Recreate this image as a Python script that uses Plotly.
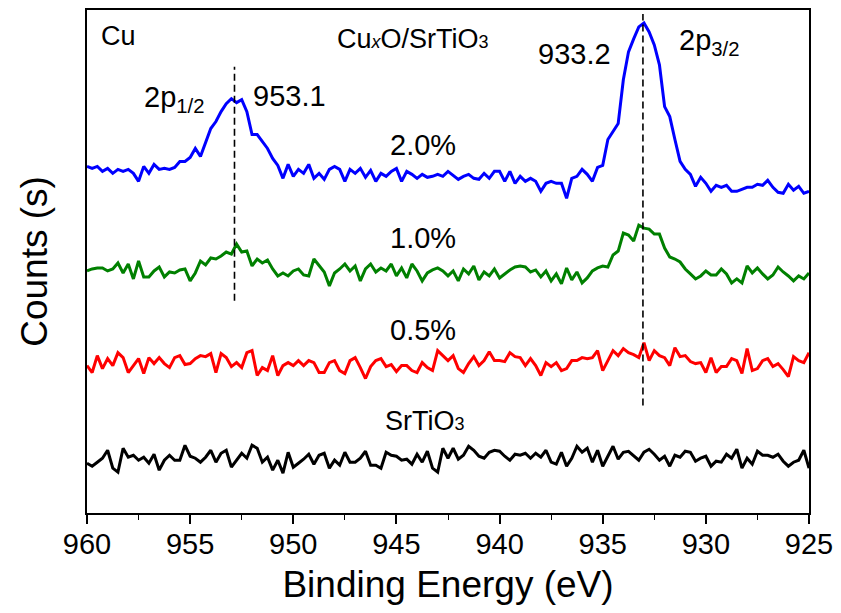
import plotly.graph_objects as go

# Binding energy grid (eV), 0.25 eV steps from 960 to 925
energy = [960 - 0.25 * i for i in range(141)]

# Counts (arbitrary, offset-stacked)
cu_2p0 = [348, 346, 348, 343, 346, 341, 345, 343, 345, 341,
          333, 348, 341, 350, 345, 346, 345, 347, 353, 353,
          357, 366, 358, 373, 386, 393, 403, 411, 416, 412,
          415, 403, 380, 380, 373, 366, 356, 349, 336, 350,
          338, 345, 341, 350, 336, 341, 335, 345, 348, 345,
          333, 345, 341, 346, 337, 344, 333, 341, 338, 343,
          346, 333, 343, 340, 336, 340, 337, 338, 340, 338,
          343, 339, 335, 338, 340, 336, 335, 341, 336, 343,
          343, 333, 343, 331, 338, 333, 336, 333, 323, 331,
          333, 331, 331, 316, 336, 338, 345, 340, 333, 347,
          349, 375, 383, 391, 435, 463, 476, 488, 492, 483,
          470, 450, 408, 398, 375, 353, 345, 340, 328, 337,
          331, 323, 329, 327, 329, 323, 323, 325, 327, 327,
          330, 329, 334, 327, 322, 321, 330, 324, 328, 321,
          323]

cu_1p0 = [243, 245, 246, 246, 243, 245, 251, 241, 250, 235,
          253, 237, 237, 243, 247, 237, 242, 241, 244, 245,
          233, 241, 253, 249, 256, 255, 258, 262, 260, 270,
          262, 263, 248, 255, 251, 254, 245, 238, 241, 238,
          243, 245, 239, 238, 255, 249, 242, 228, 241, 245,
          250, 243, 248, 233, 245, 250, 242, 246, 243, 250,
          238, 246, 236, 250, 243, 233, 241, 244, 246, 243,
          238, 243, 233, 245, 240, 248, 234, 242, 238, 245,
          236, 240, 244, 247, 248, 247, 242, 244, 237, 243,
          233, 240, 230, 246, 234, 242, 231, 236, 243, 246,
          248, 247, 259, 263, 281, 279, 273, 289, 286, 285,
          280, 280, 266, 257, 255, 252, 245, 240, 235, 238,
          243, 239, 239, 245, 240, 231, 235, 231, 248, 241,
          246, 240, 235, 239, 247, 242, 238, 233, 238, 235,
          241]

cu_0p5 = [148, 141, 158, 145, 155, 148, 161, 156, 141, 148,
          155, 140, 156, 150, 156, 150, 146, 156, 158, 149,
          150, 155, 158, 157, 160, 141, 160, 156, 147, 151,
          146, 161, 163, 138, 146, 143, 158, 138, 148, 151,
          148, 153, 148, 153, 151, 141, 141, 151, 153, 143,
          140, 153, 156, 146, 135, 147, 153, 155, 147, 149,
          142, 148, 148, 143, 141, 151, 146, 143, 163, 158,
          153, 158, 145, 141, 150, 157, 148, 153, 162, 153,
          153, 152, 161, 157, 156, 148, 155, 148, 138, 151,
          147, 151, 143, 145, 153, 153, 156, 155, 156, 163,
          143, 153, 163, 158, 165, 161, 159, 156, 171, 153,
          163, 158, 156, 148, 166, 157, 158, 152, 150, 151,
          141, 156, 141, 147, 147, 155, 153, 140, 165, 143,
          145, 153, 155, 147, 150, 144, 137, 157, 153, 151,
          161]

srtio3 = [50, 47, 51, 55, 63, 45, 41, 65, 56, 58,
          53, 56, 50, 59, 43, 53, 58, 53, 53, 68,
          57, 55, 51, 56, 63, 51, 60, 63, 46, 53,
          60, 55, 68, 65, 51, 56, 43, 53, 40, 61,
          46, 50, 54, 59, 49, 58, 60, 45, 53, 48,
          61, 51, 51, 55, 62, 48, 48, 45, 61, 58,
          57, 53, 54, 49, 59, 51, 62, 45, 41, 65,
          55, 65, 54, 58, 67, 63, 57, 55, 61, 63,
          62, 57, 53, 59, 58, 60, 55, 60, 56, 63,
          51, 49, 61, 47, 55, 67, 61, 65, 51, 63,
          47, 57, 67, 54, 61, 62, 57, 53, 61, 64,
          59, 53, 57, 47, 58, 56, 62, 61, 52, 55,
          57, 47, 52, 51, 59, 55, 64, 45, 55, 49,
          62, 58, 58, 56, 59, 52, 47, 51, 53, 63,
          45]

series_names = ["2.0%", "1.0%", "0.5%", "SrTiO3"]
series_colors = ["#0000FF", "#008000", "#FF0000", "#000000"]
series_values = [cu_2p0, cu_1p0, cu_0p5, srtio3]

# Peak marker positions (eV) and dashed-line extents (counts)
peak_2p12 = 952.85
peak_2p32 = 933.05
peak_2p12_span = [213, 448]
peak_2p32_span = [108, 501]

xtick_vals = [960, 955, 950, 945, 940, 935, 930, 925]

FONT = "Liberation Sans, Arial, sans-serif"

fig = go.Figure()
for name, color, vals in zip(series_names, series_colors, series_values):
    fig.add_trace(go.Scatter(x=energy, y=vals, mode="lines", name=name,
                             line=dict(color=color, width=3), showlegend=False))

for xv, span in [(peak_2p12, peak_2p12_span), (peak_2p32, peak_2p32_span)]:
    fig.add_shape(type="line", xref="x", yref="y", x0=xv, x1=xv, y0=span[0], y1=span[1],
                  line=dict(color="black", width=1.6, dash="7px,4px"))

labels = [
    ("Cu", 958.45, 479, 27),
    ("Cu<span style='font-size:18px'><i>x</i></span>O/SrTiO<span style='font-size:18px'>3</span>", 944.2, 476, 27),
    ("933.2", 936.37, 461, 29),
    ("2p<sub>3/2</sub>", 929.85, 473, 29),
    ("2p<sub>1/2</sub>", 955.8, 416, 29),
    ("953.1", 950.17, 419, 29),
    ("2.0%", 943.73, 369, 29),
    ("1.0%", 943.73, 276, 29),
    ("0.5%", 943.73, 184, 29),
    ("SrTiO<span style='font-size:18px'>3</span>", 943.6, 92, 27),
]
for text, xv, yv, size in labels:
    fig.add_annotation(x=xv, y=yv, xref="x", yref="y", text=text, showarrow=False,
                       font=dict(family=FONT, size=size, color="black"),
                       xanchor="center", yanchor="middle")

fig.update_layout(
    width=841, height=613,
    margin=dict(l=87, r=30, t=8, b=100),
    paper_bgcolor="white", plot_bgcolor="white",
    font=dict(family=FONT, color="black"),
)
fig.update_xaxes(
    range=[960, 925], tickvals=xtick_vals, ticktext=[str(v) for v in xtick_vals],
    ticks="outside", ticklen=9, tickwidth=1.6, tickcolor="black",
    minor=dict(dtick=2.5, tick0=925, ticks="outside", ticklen=5, tickwidth=1.4, tickcolor="black"),
    showline=True, linecolor="black", linewidth=1.8, mirror=True,
    showgrid=False, zeroline=False, ticklabelstandoff=-5,
    tickfont=dict(family=FONT, size=29, color="black"),
    title=dict(text="Binding Energy (eV)", font=dict(family=FONT, size=37, color="black"), standoff=12),
)
fig.update_yaxes(
    range=[0, 505], showticklabels=False, ticks="",
    showline=True, linecolor="black", linewidth=1.8, mirror=True,
    showgrid=False, zeroline=False,
    title=dict(text="Counts (s)", font=dict(family=FONT, size=37, color="black"), standoff=26),
)

fig.write_html("out.html")
